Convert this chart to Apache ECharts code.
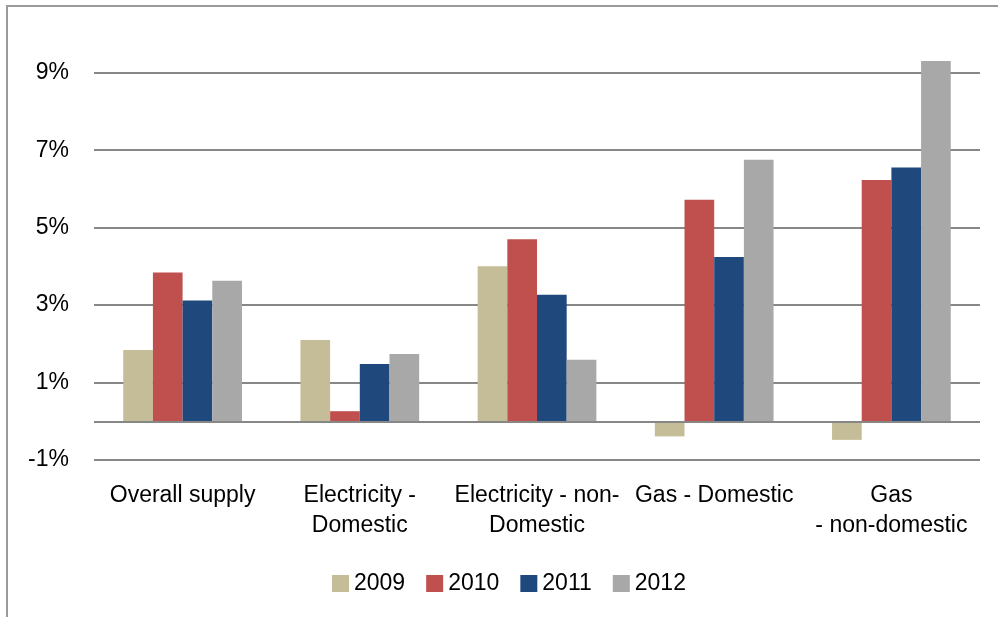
<!DOCTYPE html>
<html>
<head>
<meta charset="utf-8">
<script src="https://cdn.jsdelivr.net/npm/echarts@6/dist/echarts.min.js"></script>
<style>
html,body{margin:0;padding:0;background:#fff;}
#chart{width:998px;height:617px;}
</style>
</head>
<body>
<div id="chart"></div>
<script>
const categories = ["Overall supply", "Electricity -\nDomestic", "Electricity - non-\nDomestic", "Gas - Domestic", "Gas\n- non-domestic"];
const seriesNames = ["2009", "2010", "2011", "2012"];
const values2009 = [1.84, 2.10, 4.00, -0.39, -0.48];
const values2010 = [3.84, 0.26, 4.70, 5.72, 6.23];
const values2011 = [3.12, 1.48, 3.27, 4.24, 6.55];
const values2012 = [3.63, 1.74, 1.59, 6.75, 9.30];
const colors = ["#C4BD97", "#C0504D", "#1F497D", "#A8A8A8"];

const FONT = "Liberation Sans";
const allValues = [values2009, values2010, values2011, values2012];

const chart = echarts.init(document.getElementById('chart'));
const series = seriesNames.map((name, i) => {
  const s = {
    name: name,
    type: 'bar',
    data: allValues[i],
    itemStyle: { color: colors[i] },
    barGap: 0,
    barCategoryGap: '33%',
    emphasis: { disabled: true }
  };
  if (i === 0) {
    s.markLine = {
      silent: true,
      symbol: 'none',
      label: { show: false },
      lineStyle: { color: '#878787', width: 2, type: 'solid' },
      data: [{ yAxis: 0 }],
      animation: false
    };
  }
  return s;
});

chart.setOption({
  animation: false,
  color: colors,
  textStyle: { fontFamily: FONT },
  graphic: [{
    type: 'rect',
    silent: true,
    shape: { x: 7, y: 6, width: 1200, height: 1200 },
    style: { fill: 'none', stroke: '#9a9a9a', lineWidth: 2 }
  }],
  grid: { left: 94, right: 18, top: 34, bottom: 157 },
  legend: {
    data: seriesNames,
    left: 327,
    top: 567,
    itemWidth: 17,
    itemHeight: 17,
    itemGap: 21,
    icon: 'rect',
    textStyle: { fontFamily: FONT, fontSize: 23, color: '#000' }
  },
  xAxis: {
    type: 'category',
    data: categories,
    axisLine: { show: false },
    axisTick: { show: false },
    axisLabel: {
      interval: 0,
      margin: 21,
      fontFamily: FONT,
      fontSize: 23,
      lineHeight: 30,
      color: '#000'
    }
  },
  yAxis: {
    type: 'value',
    min: -1,
    max: 10,
    interval: 2,
    axisLine: { show: false },
    axisTick: { show: false },
    axisLabel: {
      margin: 25,
      fontFamily: FONT,
      fontSize: 23,
      color: '#000',
      showMaxLabel: false,
      formatter: v => v + '%'
    },
    splitLine: { show: true, showMaxLine: false, lineStyle: { color: '#878787', width: 2 } }
  },
  series: series
});
</script>
</body>
</html>
